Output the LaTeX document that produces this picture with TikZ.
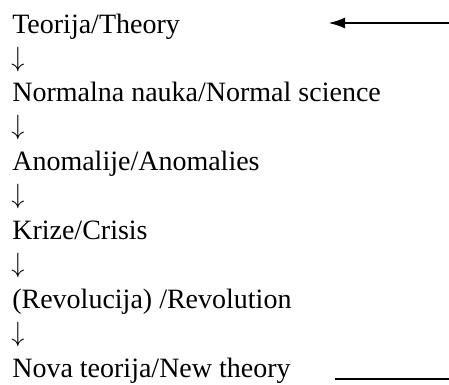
\documentclass[tikz,border=0pt]{standalone}
\usepackage{fontspec}
\setmainfont{Liberation Serif}
\usetikzlibrary{arrows.meta}
\newcommand{\dolje}{\scalebox{1.05}[1.12]{$\downarrow$}}

\begin{document}
\begin{tikzpicture}[x=1pt,y=-1pt,line width=2.6pt,>={Latex[length=17pt,width=11pt]},
  txt/.style={anchor=base west,inner sep=0pt,font=\fontsize{28}{34}\selectfont},
  dol/.style={anchor=base west,inner sep=0pt,font=\fontsize{24.88}{30}\selectfont}]
  \useasboundingbox (0,0) rectangle (449,384);
  % faze razvoja nauke
  \node[txt] (teorija) at (11,33){Teorija/Theory};
  \node[dol] (dol1) at (10,66){\dolje};
  \node[txt] (normalna) at (11,101.8){Normalna nauka/Normal science};
  \node[dol] (dol2) at (10,134.8){\dolje};
  \node[txt] (anomalije) at (11,170.6){Anomalije/Anomalies};
  \node[dol] (dol3) at (10,203.6){\dolje};
  \node[txt] (krize) at (11,239.4){Krize/Crisis};
  \node[dol] (dol4) at (10,272.4){\dolje};
  \node[txt] (revolucija) at (11,308.2){(Revolucija) /Revolution};
  \node[dol] (dol5) at (10,341.2){\dolje};
  \node[txt] (nova) at (11,377){Nova teorija/New theory};
  % povratak na teoriju
  \coordinate (povA) at (449,23);
  \coordinate (povB) at (328,23);
  \draw[->] (povA) -- (povB);
  \coordinate (novaA) at (335,379);
  \coordinate (novaB) at (449,379);
  \draw (novaA) -- (novaB);
\end{tikzpicture}
\end{document}
